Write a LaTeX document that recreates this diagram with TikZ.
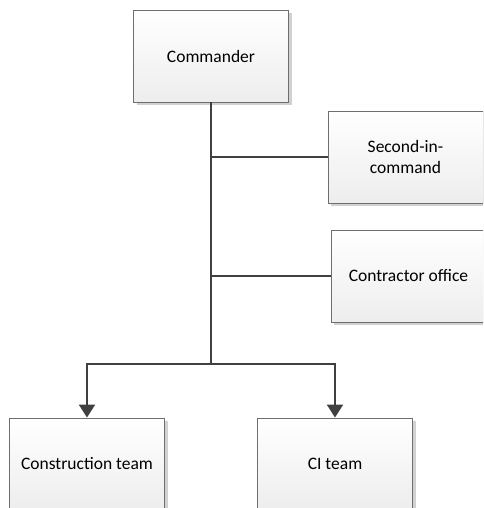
\documentclass[tikz,border=0pt]{standalone}
\usepackage{fontspec}
\setmainfont{Carlito}
\usetikzlibrary{arrows.meta,shadows}
\definecolor{linegray}{HTML}{404040}
\definecolor{boxedge}{HTML}{6E6E6E}
\tikzset{
  orgbox/.style={rectangle, draw=boxedge, line width=0.9pt,
    top color=white, bottom color=black!7,
    minimum width=155pt, minimum height=92pt, inner sep=2pt,
    align=center, font=\fontsize{17.5}{21}\selectfont,
    drop shadow={shadow xshift=3pt, shadow yshift=-3pt, fill=black!18, opacity=1}},
  link/.style={draw=linegray, line width=2.1pt},
  arrowlink/.style={link, -{Triangle[width=16pt,length=13pt]}}
}
\begin{document}
\begin{tikzpicture}[x=1pt,y=-1pt]
  \useasboundingbox (0,0) rectangle (483,508);
  \clip (0,0) rectangle (483,508);
  % boxes
  \node[orgbox] (cmd) at (211,56) {Commander};
  \node[orgbox] (sec) at (405.5,157) {Second-in-\\command};
  \node[orgbox] (ctr) at (408.5,276) {Contractor office};
  \node[orgbox] (con) at (87,464) {Construction team};
  \node[orgbox] (ci)  at (335,464) {CI team};
  % trunk and side branches
  \coordinate (fork) at (211,364);
  \draw[link] (cmd.south) -- (fork);
  \draw[link] (cmd.south |- sec.west) -- (sec.west);
  \draw[link] (cmd.south |- ctr.west) -- (ctr.west);
  % branches to the teams
  \draw[arrowlink] (fork) -| (con.north);
  \draw[arrowlink] (fork) -| (ci.north);
\end{tikzpicture}
\end{document}
